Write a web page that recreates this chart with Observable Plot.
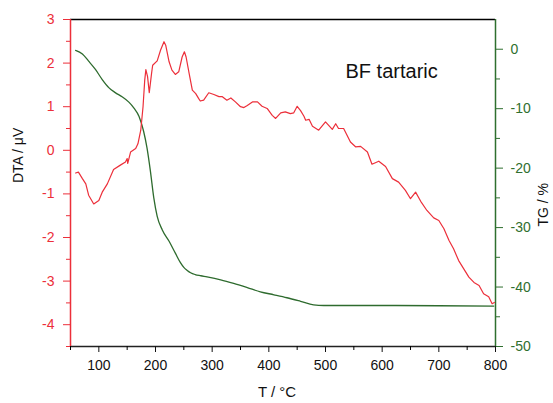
<!DOCTYPE html>
<html><head><meta charset="utf-8">
<script src="https://cdn.jsdelivr.net/npm/d3@7"></script>
<script src="https://cdn.jsdelivr.net/npm/@observablehq/plot@0.6"></script>
<style>html,body{margin:0;padding:0;background:#fff;overflow:hidden}</style>
</head><body><div id="chart"></div>
<script>
const dtaT = [59,64,71,77,82,91,100,106,115,126,138,147,150,151,156,165,169,174,178,181,183,186,189,193,195,203,209,215,218,224,229,235,241,247,251,254,260,265,271,276,279,285,294,303,312,318,326,333,341,350,356,362,371,380,388,397,406,412,421,429,438,444,450,456,462,465,471,477,488,500,512,518,523,532,544,553,562,574,582,594,606,618,629,641,650,659,668,679,691,700,709,718,726,735,744,753,762,771,779,788,794,798];
const dtaV = [-0.52,-0.50,-0.65,-0.77,-1.03,-1.23,-1.15,-0.96,-0.77,-0.44,-0.34,-0.27,-0.19,-0.30,-0.04,0.04,0.15,0.46,1.00,1.61,1.85,1.69,1.32,1.76,1.95,2.05,2.30,2.49,2.41,2.03,1.84,1.74,1.80,2.14,2.26,2.14,1.72,1.38,1.30,1.19,1.13,1.15,1.32,1.28,1.23,1.23,1.15,1.20,1.11,1.00,0.98,1.03,1.11,1.11,1.01,0.96,0.80,0.73,0.86,0.88,0.84,0.86,1.01,0.91,0.78,0.69,0.71,0.55,0.46,0.65,0.48,0.61,0.50,0.50,0.19,0.08,0.09,-0.04,-0.32,-0.25,-0.37,-0.65,-0.73,-0.92,-1.11,-0.96,-1.17,-1.38,-1.55,-1.61,-1.80,-2.07,-2.26,-2.53,-2.72,-2.91,-3.03,-3.10,-3.29,-3.36,-3.52,-3.49];
const tgT = [59,71,82,94,106,118,129,141,153,162,171,179,185,191,197,203,212,224,235,244,250,256,262,270,280,291,315,338,362,385,409,432,456,479,497,600,700,797];
const tgV = [-0.2,-0.8,-2.0,-3.4,-5.1,-6.5,-7.3,-8.0,-8.9,-9.9,-11.3,-13.8,-16.6,-20.5,-25.0,-28.1,-30.4,-32.3,-34.3,-35.9,-36.7,-37.2,-37.6,-37.9,-38.1,-38.3,-38.8,-39.4,-40.1,-40.8,-41.3,-41.8,-42.4,-43.0,-43.1,-43.1,-43.15,-43.2];
const xTicks = [100,200,300,400,500,600,700,800];
const xMinor = [50,150,250,350,450,550,650,750];
const dtaTicks = [-4,-3,-2,-1,0,1,2,3];
const dtaMinor = [-4.5,-3.5,-2.5,-1.5,-0.5,0.5,1.5,2.5];
const tgTicks = [-50,-40,-30,-20,-10,0];
const tgMinor = [-45,-35,-25,-15,-5];
const xDomain = [50, 800];
const dtaDomain = [-4.5, 3];
const tgDomain = [-50, 5];

const RED = "#ec2f3a", GREEN = "#2f6f2f", LINEGREEN = "#2e6b2e";
const tgToY = v => dtaDomain[0] + (v - tgDomain[0]) * (dtaDomain[1] - dtaDomain[0]) / (tgDomain[1] - tgDomain[0]);
const yToTg = y => tgDomain[0] + (y - dtaDomain[0]) * (tgDomain[1] - tgDomain[0]) / (dtaDomain[1] - dtaDomain[0]);

const chart = Plot.plot({
  width: 553, height: 403,
  marginLeft: 70, marginRight: 58, marginTop: 19, marginBottom: 57,
  style: {fontFamily: "'Liberation Sans', Arial, sans-serif", fontSize: "14px", background: "#fff"},
  x: {domain: xDomain, axis: null},
  y: {domain: dtaDomain, axis: null},
  marks: [
    Plot.ruleY([dtaDomain[1]], {stroke: "black", strokeWidth: 1.5}),
    Plot.ruleY([dtaDomain[0]], {stroke: "#222", strokeWidth: 1.5}),
    Plot.ruleX([xDomain[0]], {stroke: RED, strokeWidth: 1.5}),
    Plot.ruleX([xDomain[1]], {stroke: GREEN, strokeWidth: 1.5}),
    Plot.axisX(xTicks, {anchor: "bottom", tickSize: 6, tickPadding: 8, fontSize: 14, color: "#111", label: null, tickFormat: d => String(d)}),
    Plot.axisX(xMinor, {anchor: "bottom", tickSize: 4, label: null, tickFormat: () => ""}),
    Plot.axisY(dtaTicks, {anchor: "left", tickSize: 7, tickPadding: 9, fontSize: 14, color: RED, label: null, tickFormat: d => String(d)}),
    Plot.axisY(dtaMinor, {anchor: "left", tickSize: 4, color: RED, label: null, tickFormat: () => ""}),
    Plot.axisY(tgTicks.map(tgToY), {anchor: "right", tickSize: 7, tickPadding: 8, fontSize: 14, color: GREEN, label: null, tickFormat: d => String(Math.round(yToTg(d)))}),
    Plot.axisY(tgMinor.map(tgToY), {anchor: "right", tickSize: 4, color: GREEN, label: null, tickFormat: () => ""}),
    Plot.line(tgT, {x: tgT, y: tgV.map(tgToY), stroke: LINEGREEN, strokeWidth: 1.3, curve: "monotone-x"}),
    Plot.line(dtaT, {x: dtaT, y: dtaV, stroke: RED, strokeWidth: 1.2}),
    Plot.text(["BF tartaric"], {frameAnchor: "top-left", dx: 275, dy: 44, textAnchor: "start", fontSize: 20, fill: "#111"}),
    Plot.text(["DTA / μV"], {frameAnchor: "left", dx: -52, rotate: -90, fontSize: 14, fill: "#111"}),
    Plot.text(["TG / %"], {frameAnchor: "right", dx: 48, rotate: -90, fontSize: 14, fill: "#111"}),
    Plot.text(["T / °C"], {frameAnchor: "bottom", dx: -6, dy: 50, fontSize: 15, fill: "#111"})
  ]
});
document.getElementById("chart").appendChild(chart);
</script>
</body></html>
